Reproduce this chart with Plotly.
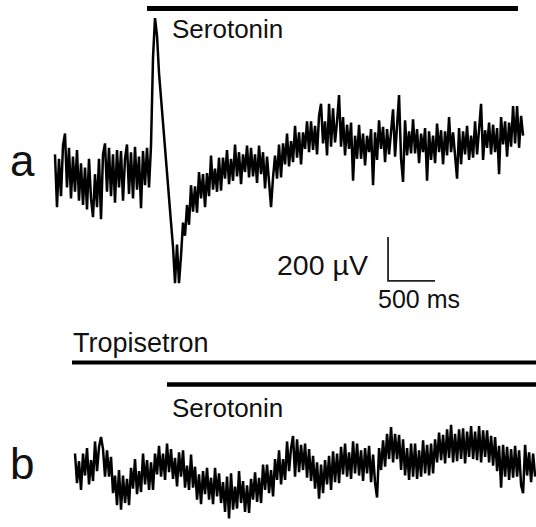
import numpy as np
import plotly.graph_objects as go

# ---------------- data ----------------
DT_MS = 21.28

# Trace a: field potential, serotonin alone (µV, relative to baseline)
TRACE_A_UV = [
    80, -160, 60, -110, 120, 175, -70, 110, -120, 70,
    -90, 100, -130, 40, -150, 20, -170, 60, -120, -205,
    -10, -160, 60, -215, 80, 130, -90, 110, -110, 80,
    -140, 100, -70, 95, -130, 60, 125, -100, 90, -120,
    115, -80, 70, -165, 95, -60, 110, -70,
    120, 520, 700, 620, 450, 330, 230, 100, 0, -110,
    -230, -340, -505, -330, -505, -380, -230, -290, -150, -240,
    -60, -180, -65, -185, 0, -120, -10, -160, -5, -110,
    75, -80, 15, -90, 65, -85, 65, -30, 100, -55,
    60, -40, 125, -20, 90, -55, 80, 0, 120, -25,
    110, -20, 80, -50, 120, -10, 90, -75, 70, -45,
    -160, -25, 75, -30, 125, -25, 130, 35, 175, 25,
    140, 45, 210, 65, 180, 35, 180, 105, 230, 90,
    230, 100, 210, 80, 255, 310, 130, 230, 75, 310,
    115, 290, 135, 230, 350, 115, 250, 75, 215, 105,
    225, -40, 165, 60, 215, 60, 175, 30, 165, 90,
    195, -60, 180, 55, 235, 105, 205, 45, 195, 80,
    200, 285, 70, 220, 350, 60, -45, 235, 75, 185,
    85, 240, 85, 195, 40, 175, 90, 200, -40, 185,
    55, 165, 40, 220, 90, 190, 35, 185, 75, 250,
    90, 180, 65, -30, 200, 35, 185, 80, 210, 55,
    165, 65, 230, 80, 195, 310, 55, 190, 110, 225,
    80, 215, 90, 200, -10, 250, 125, 230, 70, 225,
    115, 300, 130, 300, 110, 255, 165,
]

# Trace b: serotonin in presence of tropisetron (µV, relative to baseline)
TRACE_B_UV = [
    65, -70, 30, -100, 65, -35, 90, -75, 35, -60,
    120, -15, 95, 140, 85, -40, 80, -40, 50, -115,
    -35, -170, -10, -190, -35, -160, -50, -170, 0, -95,
    40, -120, -15, -110, 65, -75, 35, -100, 25, -100,
    65, -30, 100, -40, 65, -55, 110, -20, 85, -50,
    45, -85, 70, -40, 80, -90, 10, -100, 60, -90,
    5, -145, -30, -165, -15, -120, 0, -145, -45, -165,
    0, -130, -25, -160, -65, -200, -40, -230, -25, -190,
    -85, -185, -15, -160, -60, -200, -80, -205, -50, -145,
    -20, -155, -45, -160, 15, -100, 15, -115, -10, -130,
    40, -55, 80, -75, 40, -55, 120, -15, 90, 145,
    -40, 130, -20, 105, -10, 110, -45, 85, -60, 55,
    -95, 25, -140, 15, -115, 35, -75, 55, -100, 75,
    -65, 65, -70, 95, -30, 110, -40, 70, -50, 120,
    -25, 110, -35, 80, -60, 90, -25, 100, -65, 60,
    -70, -135, 90, -10, 125, 5, 155, 40, 185, 25,
    155, 40, 150, -10, 130, -35, 90, -55, 110, -40,
    110, -50, 80, -40, 125, -25, 105, -35, 110, -25,
    130, 25, 160, 35, 150, 20, 175, 45, 195, 25,
    155, 30, 175, 40, 180, 20, 165, 50, 190, 40,
    165, 35, 190, 25, 170, 50, 170, 25, 145, 10,
    140, -15, 100, -90, 105, -40, 95, -55, 85, -45,
    100, -40, 80, -80, -115, 105, -35, 70, -65, 65,
    -40,
]
TRACE_B_START_MS = 213

# drug application periods (ms, on the trace-a time base)
SEROTONIN_A_MS = [979, 4925]
TROPISETRON_B_MS = [181, 5300]
SEROTONIN_B_MS = [1191, 5300]

# scale bar
SCALE_MS = 500
SCALE_UV = 200
SCALE_X0_MS = 3543
SCALE_Y0_UV = -495

# labels
PANEL_LABELS = ["a", "b"]
DRUG_LABELS = ["Serotonin", "Tropisetron", "Serotonin"]
SCALE_LABELS = ["200 µV", "500 ms"]

# ---------------- layout helpers ----------------
W, H = 536, 527
FONT = "Liberation Sans, Arial, Helvetica, sans-serif"
B_OFFSET_UV = -1345          # vertical placement of trace b
X_RANGE = [-585, 5117]
Y_RANGE = [-1614, 782]


def py(p):
    return 1 - p / H


def px(p):
    return p / W


t_a = np.arange(len(TRACE_A_UV)) * DT_MS
t_b = TRACE_B_START_MS + np.arange(len(TRACE_B_UV)) * DT_MS

fig = go.Figure()
fig.add_trace(go.Scatter(x=t_a, y=TRACE_A_UV, mode="lines",
                         line=dict(color="black", width=2.5), hoverinfo="skip"))
fig.add_trace(go.Scatter(x=t_b, y=np.array(TRACE_B_UV) + B_OFFSET_UV, mode="lines",
                         line=dict(color="black", width=2.5), hoverinfo="skip"))
# scale bar
fig.add_trace(go.Scatter(
    x=[SCALE_X0_MS, SCALE_X0_MS, SCALE_X0_MS + SCALE_MS],
    y=[SCALE_Y0_UV + SCALE_UV, SCALE_Y0_UV, SCALE_Y0_UV],
    mode="lines", line=dict(color="#222", width=1.8), hoverinfo="skip"))

# drug bars
for (x0, x1), ypix, w in [(SEROTONIN_A_MS, 8.5, 5),
                          (TROPISETRON_B_MS, 362.5, 4),
                          (SEROTONIN_B_MS, 384.5, 4.5)]:
    fig.add_shape(type="line", xref="x", yref="paper", x0=x0, x1=x1,
                  y0=py(ypix), y1=py(ypix), line=dict(color="black", width=w))

def ann(text, xp, yp, size, xanchor="left"):
    fig.add_annotation(text=text, xref="paper", yref="paper", x=px(xp), y=py(yp),
                       xanchor=xanchor, yanchor="middle", showarrow=False,
                       font=dict(family=FONT, size=size, color="#111"))

ann(DRUG_LABELS[0], 170, 29, 26)
ann(DRUG_LABELS[1], 71, 342.5, 27)
ann(DRUG_LABELS[2], 170, 408, 26)
ann(PANEL_LABELS[0], 22, 161, 44, "center")
ann(PANEL_LABELS[1], 22, 463, 44, "center")
ann(SCALE_LABELS[0], 370, 265, 28.5, "right")
ann(SCALE_LABELS[1], 376, 299, 25)

fig.update_layout(
    width=W, height=H, autosize=False,
    margin=dict(l=0, r=0, t=0, b=0),
    paper_bgcolor="white", plot_bgcolor="white",
    showlegend=False,
    xaxis=dict(range=X_RANGE, visible=False, fixedrange=True),
    yaxis=dict(range=Y_RANGE, visible=False, fixedrange=True),
)

fig.write_html("out.html", config={"displayModeBar": False},
               post_script="document.body.style.margin='0';")
